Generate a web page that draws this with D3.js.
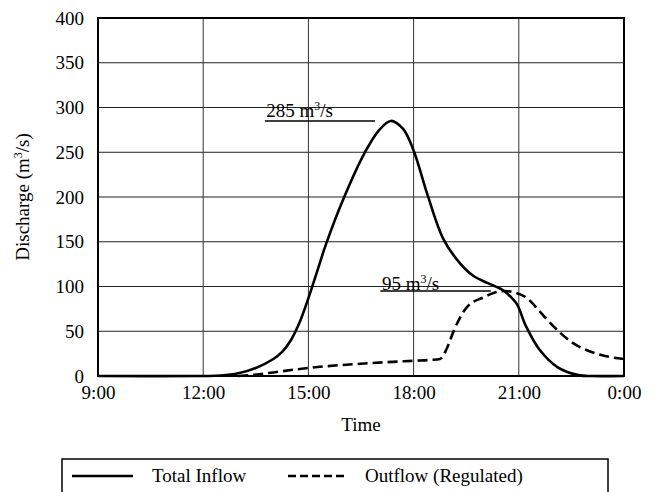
<!DOCTYPE html>
<html><head><meta charset="utf-8">
<script src="https://cdn.jsdelivr.net/npm/d3@7"></script>
<style>body{margin:0;background:#fff}svg{display:block}text{font-family:"Liberation Serif","Times New Roman",serif;fill:#000}</style>
</head><body><svg id="c" width="665" height="492"></svg>
<script>
const timeTicks = [9, 12, 15, 18, 21, 24];
const timeLabels = ["9:00", "12:00", "15:00", "18:00", "21:00", "0:00"];
const dischargeTicks = [0, 50, 100, 150, 200, 250, 300, 350, 400];
const inflowTime = [9, 12, 12.5, 13, 13.5, 14, 14.25, 14.5, 14.75, 15, 15.25, 15.5, 16, 16.6, 17.0, 17.35, 17.7, 18.0, 18.4, 18.85, 19.3, 19.7, 20.1, 20.5, 20.7, 20.95, 21.2, 21.6, 22.1, 22.7, 23.1, 24];
const inflowValue = [0, 0, 0.5, 3, 9, 19, 27, 40, 60, 87, 117, 147, 198, 249, 274, 285, 276, 252, 202, 153, 127, 112, 104, 97, 91, 80, 56, 29, 10, 1, 0, 0];
const outflowTime = [13.0, 13.6, 14.0, 15.0, 16.6, 18.0, 18.5, 18.75, 18.95, 19.15, 19.5, 20.0, 20.3, 20.6, 20.9, 21.2, 21.6, 21.9, 22.5, 23.3, 24];
const outflowValue = [0, 2, 4, 9, 14, 17, 18, 19, 31, 51, 76, 88, 93, 95, 93, 88, 72, 59, 38, 24, 19];
const peakInflow = 285, peakOutflow = 95;

const svg = d3.select("#c");
const L = 98, R = 624, T = 18, B = 376;
const x = d3.scaleLinear().domain([9, 24]).range([L, R]);
const y = d3.scaleLinear().domain([0, 400]).range([B, T]);

// grid
svg.append("g").selectAll("line").data(dischargeTicks.slice(1, -1)).join("line")
  .attr("x1", L).attr("x2", R).attr("y1", d => y(d)).attr("y2", d => y(d))
  .attr("stroke", "#222").attr("stroke-width", 1);
svg.append("g").selectAll("line").data(timeTicks.slice(1, -1)).join("line")
  .attr("y1", T).attr("y2", B).attr("x1", d => x(d)).attr("x2", d => x(d))
  .attr("stroke", "#333").attr("stroke-width", 1);

// axes (labels)
const yAxis = d3.axisLeft(y).tickValues(dischargeTicks).tickSize(0).tickPadding(14);
const gy = svg.append("g").attr("transform", `translate(${L},0)`).call(yAxis);
gy.select(".domain").remove();
gy.selectAll("text").attr("font-size", 19).style("font-family", "Liberation Serif");
const xAxis = d3.axisBottom(x).tickValues(timeTicks).tickFormat((d, i) => timeLabels[i]).tickSize(0).tickPadding(10);
const gx = svg.append("g").attr("transform", `translate(0,${B})`).call(xAxis);
gx.select(".domain").remove();
gx.selectAll("text").attr("font-size", 19).style("font-family", "Liberation Serif");

// annotation lines
svg.append("line").attr("x1", x(13.76)).attr("x2", x(16.9)).attr("y1", y(peakInflow)).attr("y2", y(peakInflow))
  .attr("stroke", "#000").attr("stroke-width", 1.5);
svg.append("line").attr("x1", x(17.05)).attr("x2", x(20.2)).attr("y1", y(peakOutflow)).attr("y2", y(peakOutflow))
  .attr("stroke", "#000").attr("stroke-width", 1.5);
const ann1 = svg.append("text").attr("x", x(13.8)).attr("y", y(peakInflow) - 4).attr("font-size", 19);
ann1.append("tspan").text(peakInflow + " m");
ann1.append("tspan").attr("font-size", 12).attr("dy", -7).text("3");
ann1.append("tspan").attr("dy", 7).text("/s");
const ann2 = svg.append("text").attr("x", x(17.1)).attr("y", y(peakOutflow) - 1).attr("font-size", 19);
ann2.append("tspan").text(peakOutflow + " m");
ann2.append("tspan").attr("font-size", 12).attr("dy", -7).text("3");
ann2.append("tspan").attr("dy", 7).text("/s");

// series
const lineIn = d3.line().x(d => x(d[0])).y(d => Math.min(y(d[1]), B)).curve(d3.curveCatmullRom.alpha(0.5));
const lineOut = d3.line().x(d => x(d[0])).y(d => y(d[1])).curve(d3.curveMonotoneX);
svg.append("path").datum(inflowTime.map((t, i) => [t, inflowValue[i]]))
  .attr("d", lineIn).attr("fill", "none").attr("stroke", "#000").attr("stroke-width", 2.6);
svg.append("path").datum(outflowTime.map((t, i) => [t, outflowValue[i]]))
  .attr("d", lineOut).attr("fill", "none").attr("stroke", "#000").attr("stroke-width", 2.6)
  .attr("stroke-dasharray", "10,5");

// frame
svg.append("rect").attr("x", L).attr("y", T).attr("width", R - L).attr("height", B - T)
  .attr("fill", "none").attr("stroke", "#000").attr("stroke-width", 2);

// axis titles
svg.append("text").attr("x", (L + R) / 2).attr("y", 431).attr("text-anchor", "middle").attr("font-size", 19).text("Time");
const yt = svg.append("text").attr("transform", `translate(29,${(T + B) / 2}) rotate(-90)`).attr("text-anchor", "middle").attr("font-size", 19);
yt.append("tspan").text("Discharge (m");
yt.append("tspan").attr("font-size", 12).attr("dy", -7).text("3");
yt.append("tspan").attr("dy", 7).text("/s)");

// legend
svg.append("rect").attr("x", 62).attr("y", 459).attr("width", 546).attr("height", 60)
  .attr("fill", "none").attr("stroke", "#000").attr("stroke-width", 1.5);
const lg = svg.append("g");
lg.append("line").attr("x1", 72).attr("x2", 133).attr("y1", 476).attr("y2", 476).attr("stroke", "#000").attr("stroke-width", 2.6);
lg.append("text").attr("x", 152).attr("y", 482).attr("font-size", 19).text("Total Inflow");
lg.append("line").attr("x1", 288).attr("x2", 346).attr("y1", 476).attr("y2", 476).attr("stroke", "#000").attr("stroke-width", 2.6).attr("stroke-dasharray", "8,4");
lg.append("text").attr("x", 365).attr("y", 482).attr("font-size", 19).text("Outflow (Regulated)");
</script></body></html>
